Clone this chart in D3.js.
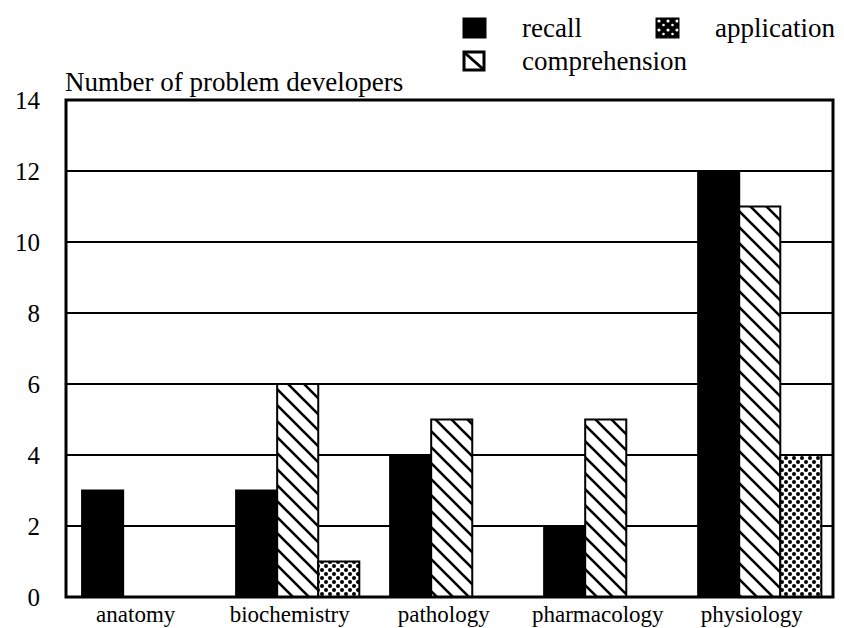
<!DOCTYPE html>
<html>
<head>
<meta charset="utf-8">
<script src="https://cdn.jsdelivr.net/npm/d3@7"></script>
<style>
  body { margin: 0; background: #fff; }
  svg { display: block; font-family: "Liberation Serif", "DejaVu Serif", serif; }
</style>
</head>
<body>
<svg id="chart" width="844" height="628"></svg>
<script>
// Chart data
var categories = ["anatomy", "biochemistry", "pathology", "pharmacology", "physiology"];
var seriesKeys = ["recall", "comprehension", "application"];
var recall = [3, 3, 4, 2, 12];
var comprehension = [0, 6, 5, 5, 11];
var application = [0, 1, 0, 0, 4];
var yTicks = [0, 2, 4, 6, 8, 10, 12, 14];

function renderChart() {
    var margin = { top: 100, right: 11, bottom: 31, left: 66 };
    var width = 844, height = 628;

    var svg = d3.select("#chart");

    // Patterns for the fills
    var defs = svg.append("defs");
    var hatch = defs.append("pattern")
        .attr("id", "hatch")
        .attr("patternUnits", "userSpaceOnUse")
        .attr("width", 16).attr("height", 16);
    hatch.append("rect").attr("width", 16).attr("height", 16).attr("fill", "#fff");
    hatch.append("path")
        .attr("d", "M-4,-4 L20,20 M-4,12 L4,20 M12,-4 L20,4")
        .attr("stroke", "#000").attr("stroke-width", 2.6);

    var dots = defs.append("pattern")
        .attr("id", "dots")
        .attr("patternUnits", "userSpaceOnUse")
        .attr("width", 8).attr("height", 8);
    dots.append("rect").attr("width", 8).attr("height", 8).attr("fill", "#fff");
    dots.append("circle").attr("cx", 2).attr("cy", 2).attr("r", 2).attr("fill", "#000");
    dots.append("circle").attr("cx", 6).attr("cy", 6).attr("r", 2).attr("fill", "#000");

    var dotsIcon = defs.append("pattern")
        .attr("id", "dotsIcon")
        .attr("patternUnits", "userSpaceOnUse")
        .attr("width", 9).attr("height", 9);
    dotsIcon.append("rect").attr("width", 9).attr("height", 9).attr("fill", "#000");
    dotsIcon.append("circle").attr("cx", 2).attr("cy", 3).attr("r", 1.6).attr("fill", "#fff");
    dotsIcon.append("circle").attr("cx", 6.5).attr("cy", 7).attr("r", 1.3).attr("fill", "#fff");

    var fills = { recall: "#000", comprehension: "url(#hatch)", application: "url(#dots)" };
    var values = { recall: recall, comprehension: comprehension, application: application };

    // Scales
    var x0 = d3.scaleBand()
        .domain(categories)
        .range([margin.left, width - margin.right])
        .paddingInner(0.2)
        .paddingOuter(0.09)
        .align(0.58);

    var x1 = d3.scaleBand()
        .domain(seriesKeys)
        .range([0, x0.bandwidth()]);

    var y = d3.scaleLinear()
        .domain([0, 14])
        .range([height - margin.bottom, margin.top]);

    // Gridlines
    svg.append("g")
        .selectAll("line")
        .data(yTicks.slice(1, -1))
        .enter()
        .append("line")
        .attr("x1", margin.left).attr("x2", width - margin.right)
        .attr("y1", function(d) { return y(d); })
        .attr("y2", function(d) { return y(d); })
        .attr("stroke", "#000").attr("stroke-width", 2);

    // Bars
    var rows = [];
    categories.forEach(function(c, i) {
        seriesKeys.forEach(function(k) {
            if (values[k][i] > 0) rows.push({ cat: c, key: k, value: values[k][i] });
        });
    });

    svg.append("g")
        .selectAll("rect")
        .data(rows)
        .enter()
        .append("rect")
        .attr("x", function(d) { return x0(d.cat) + x1(d.key); })
        .attr("y", function(d) { return y(d.value); })
        .attr("width", x1.bandwidth())
        .attr("height", function(d) { return y(0) - y(d.value); })
        .attr("fill", function(d) { return fills[d.key]; })
        .attr("stroke", "#000")
        .attr("stroke-width", 2);

    // Plot frame
    svg.append("rect")
        .attr("x", margin.left).attr("y", margin.top)
        .attr("width", width - margin.left - margin.right)
        .attr("height", height - margin.top - margin.bottom)
        .attr("fill", "none")
        .attr("stroke", "#000").attr("stroke-width", 3);

    // Y axis labels
    var yAxis = d3.axisLeft(y).tickValues(yTicks).tickSize(0).tickPadding(26);
    var yg = svg.append("g")
        .attr("transform", "translate(" + margin.left + ",0)")
        .call(yAxis);
    yg.select(".domain").remove();
    yg.selectAll("text")
        .attr("font-family", "Liberation Serif, serif")
        .attr("font-size", 25)
        .attr("fill", "#000");

    // X axis labels
    var xAxis = d3.axisBottom(x0).tickSize(0).tickPadding(9);
    var xg = svg.append("g")
        .attr("transform", "translate(-8," + (height - margin.bottom) + ")")
        .call(xAxis);
    xg.select(".domain").remove();
    xg.selectAll("text")
        .attr("font-family", "Liberation Serif, serif")
        .attr("font-size", 23)
        .attr("fill", "#000");

    // Y axis title
    svg.append("text")
        .attr("x", 65).attr("y", 91)
        .attr("font-size", 27)
        .text("Number of problem developers");

    // Legend
    var legendItems = [
        { key: "recall", x: 463, y: 18 },
        { key: "application", x: 656, y: 18 },
        { key: "comprehension", x: 463, y: 51 }
    ];
    var lg = svg.append("g");
    legendItems.forEach(function(it) {
        var fill = it.key === "application" ? "url(#dotsIcon)" : fills[it.key];
        if (it.key === "comprehension") {
            lg.append("rect").attr("x", it.x + 1).attr("y", it.y + 1)
                .attr("width", 20).attr("height", 18)
                .attr("fill", "#fff").attr("stroke", "#000").attr("stroke-width", 3);
            lg.append("line").attr("x1", it.x + 2).attr("y1", it.y + 2)
                .attr("x2", it.x + 20).attr("y2", it.y + 18)
                .attr("stroke", "#000").attr("stroke-width", 3);
        } else {
            lg.append("rect").attr("x", it.x).attr("y", it.y)
                .attr("width", 23).attr("height", 20)
                .attr("fill", fill).attr("stroke", "#000").attr("stroke-width", 1);
        }
        lg.append("text")
            .attr("x", it.x + 59).attr("y", it.y + 19)
            .attr("font-size", 27)
            .text(it.key);
    });
}

renderChart();
</script>
</body>
</html>
